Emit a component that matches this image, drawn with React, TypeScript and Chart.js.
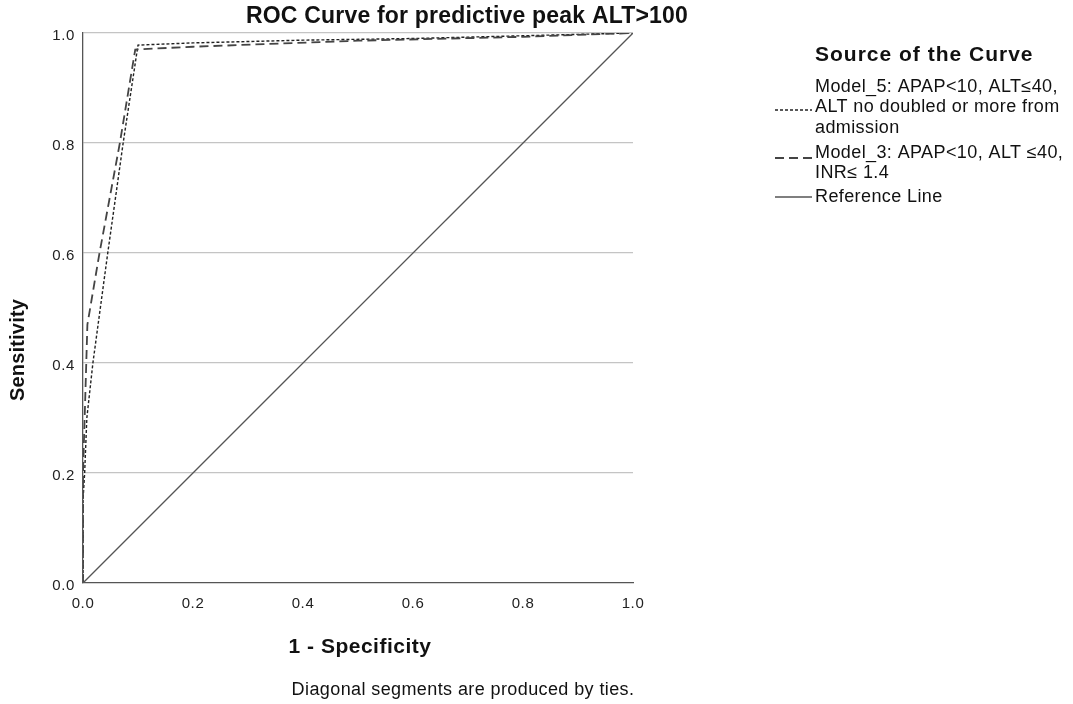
import React, { useEffect, useRef } from "react";
import { Chart, registerables } from "chart.js";

Chart.register(...registerables);

const chartTitle = "ROC Curve for predictive peak ALT>100";
const xTitle = "1 - Specificity";
const yTitle = "Sensitivity";
const footnote = "Diagonal segments are produced by ties.";
const legendTitle = "Source of the Curve";

const model5Label = ["Model_5: APAP<10, ALT≤40,", "ALT no doubled or more from", "admission"];
const model5Fpr = [0, 0, 0.003, 0.007, 0.018, 0.045, 0.073, 0.1, 0.2, 0.4, 0.6, 0.8, 1];
const model5Tpr = [0, 0.15, 0.2, 0.3, 0.4, 0.6, 0.8, 0.978, 0.982, 0.987, 0.99, 0.995, 1];

const model3Label = ["Model_3: APAP<10, ALT ≤40,", "INR≤ 1.4"];
const model3Fpr = [0, 0, 0.003, 0.008, 0.03, 0.067, 0.095, 0.2, 0.5, 0.8, 1];
const model3Tpr = [0, 0.2, 0.3, 0.47, 0.6, 0.8, 0.97, 0.975, 0.986, 0.993, 1];

const refLabel = ["Reference Line"];
const refFpr = [0, 1];
const refTpr = [0, 1];

const FONT = "'Liberation Sans', Arial, sans-serif";

const toPoints = (xs: number[], ys: number[]) => xs.map((x, i) => ({ x, y: ys[i] }));

const spacingPlugin = {
  id: "spacing",
  beforeDraw(chart: any) {
    (chart.ctx as any).letterSpacing = "0.6px";
  },
};

const decorPlugin = {
  id: "decor",
  afterDraw(chart: any) {
    const ctx = chart.ctx as any;
    ctx.save();
    ctx.fillStyle = "#111";
    ctx.textBaseline = "middle";
    ctx.textAlign = "center";

    // Title
    ctx.letterSpacing = "0.2px";
    ctx.font = `bold 23px ${FONT}`;
    ctx.fillText(chartTitle, 467, 17);

    // X axis title
    ctx.letterSpacing = "0.5px";
    ctx.font = `bold 21px ${FONT}`;
    ctx.fillText(xTitle, 360, 647);

    // Footnote
    ctx.letterSpacing = "0.4px";
    ctx.font = `18px ${FONT}`;
    ctx.fillText(footnote, 463, 690);

    // Y axis title
    ctx.save();
    ctx.translate(18, 350);
    ctx.rotate(-Math.PI / 2);
    ctx.letterSpacing = "0.2px";
    ctx.font = `bold 20px ${FONT}`;
    ctx.fillText(yTitle, 0, 0);
    ctx.restore();

    // Legend
    ctx.textAlign = "left";
    ctx.letterSpacing = "1px";
    ctx.font = `bold 21px ${FONT}`;
    ctx.fillText(legendTitle, 815, 55);

    const tx = 815;
    const sx0 = 775;
    const sx1 = 812;
    const items = [
      { lines: model5Label, top: 87, sampleY: 110, dash: [3, 2], color: "#222", width: 1.3 },
      { lines: model3Label, top: 153, sampleY: 158, dash: [9, 5], color: "#444", width: 1.8 },
      { lines: refLabel, top: 197, sampleY: 197, dash: [], color: "#555", width: 1.3 },
    ];
    ctx.letterSpacing = "0.4px";
    ctx.font = `18px ${FONT}`;
    items.forEach((it) => {
      it.lines.forEach((l, i) => {
        ctx.fillStyle = "#111";
        ctx.fillText(l, tx, it.top + i * 20.5);
      });
      ctx.beginPath();
      ctx.setLineDash(it.dash);
      ctx.strokeStyle = it.color;
      ctx.lineWidth = it.width;
      ctx.moveTo(sx0, it.sampleY);
      ctx.lineTo(sx1, it.sampleY);
      ctx.stroke();
    });
    ctx.restore();
  },
};

export default function App() {
  const ref = useRef<HTMLCanvasElement | null>(null);
  useEffect(() => {
    if (!ref.current) return;
    const chart = new Chart(ref.current, {
      type: "scatter",
      data: {
        datasets: [
          {
            label: refLabel.join(" "),
            data: toPoints(refFpr, refTpr),
            showLine: true,
            borderColor: "#555",
            borderWidth: 1.3,
            pointRadius: 0,
            fill: false,
          },
          {
            label: model3Label.join(" "),
            data: toPoints(model3Fpr, model3Tpr),
            showLine: true,
            borderColor: "#444",
            borderWidth: 1.8,
            borderDash: [9, 5],
            pointRadius: 0,
            fill: false,
          },
          {
            label: model5Label.join(" "),
            data: toPoints(model5Fpr, model5Tpr),
            showLine: true,
            borderColor: "#222",
            borderWidth: 1.4,
            borderDash: [3, 2],
            pointRadius: 0,
            fill: false,
          },
        ],
      },
      options: {
        responsive: false,
        animation: false,
        layout: { padding: { top: 33, right: 440, left: 0, bottom: 0 } },
        plugins: {
          legend: { display: false },
          tooltip: { enabled: false },
          title: { display: false },
        },
        scales: {
          x: {
            type: "linear",
            min: 0,
            max: 1,
            afterFit: (s: any) => {
              s.height = 121;
            },
            ticks: {
              stepSize: 0.2,
              callback: (v: any) => Number(v).toFixed(1),
              color: "#222",
              font: { family: FONT, size: 15 },
              padding: 12,
              maxRotation: 0,
            },
            grid: { color: "rgba(0,0,0,0)", drawTicks: false },
            border: { display: true, color: "#555", width: 1.3 },
          },
          y: {
            type: "linear",
            min: 0,
            max: 1,
            afterFit: (s: any) => {
              s.width = 83;
            },
            ticks: {
              stepSize: 0.2,
              callback: (v: any) => Number(v).toFixed(1),
              color: "#222",
              font: { family: FONT, size: 15 },
              padding: 8,
              labelOffset: 3,
            },
            grid: {
              color: (c: any) => (c.tick && c.tick.value === 0 ? "rgba(0,0,0,0)" : "#c4c4c4"),
              lineWidth: 1.3,
              drawTicks: false,
            },
            border: { display: true, color: "#555", width: 1.3 },
          },
        },
      },
      plugins: [spacingPlugin, decorPlugin],
    } as any);
    return () => chart.destroy();
  }, []);

  return (
    <div style={{ position: "fixed", left: 0, top: 0, width: 1073, height: 704, background: "#fff" }}>
      <canvas ref={ref} width={1073} height={704} style={{ display: "block" }} />
    </div>
  );
}
